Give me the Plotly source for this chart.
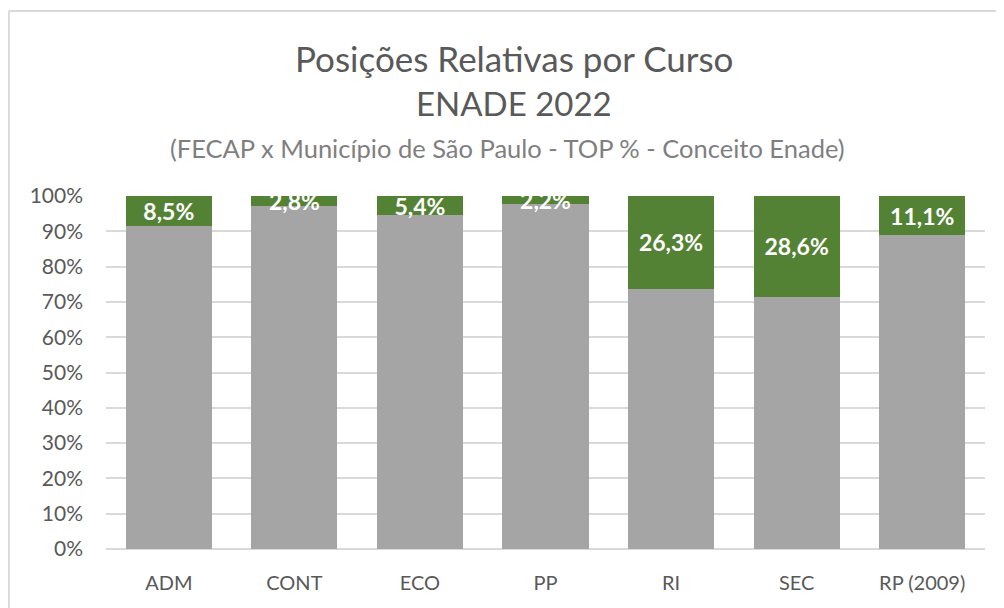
import plotly.graph_objects as go

categories = ["ADM", "CONT", "ECO", "PP", "RI", "SEC", "RP (2009)"]
top_pct = [8.5, 2.8, 5.4, 2.2, 26.3, 28.6, 11.1]
rest_pct = [100 - v for v in top_pct]

title_line1 = "Posições Relativas por Curso"
title_line2 = "ENADE 2022"
subtitle = "(FECAP x Município de São Paulo - TOP % - Conceito Enade)"

FONT = "Lato, Open Sans, sans-serif"
GREY = "#A5A5A5"
GREEN = "#548235"
TXT = "#595959"

fig = go.Figure()
fig.add_trace(go.Bar(
    x=categories, y=[v / 100 for v in rest_pct],
    marker=dict(color=GREY, line=dict(width=0)),
    hoverinfo="skip", showlegend=False,
))
fig.add_trace(go.Bar(
    x=categories, y=[v / 100 for v in top_pct],
    marker=dict(color=GREEN, line=dict(width=0)),
    texttemplate="%{y:.1%}", textposition="inside",
    insidetextanchor="middle", constraintext="none",
    textfont=dict(family=FONT, size=23, color="white", weight="bold"),
    cliponaxis=False, showlegend=False,
))

frame = dict(color="#D9D9D9", width=2)
fig.update_layout(
    barmode="stack", bargap=0.315,
    separators=",.",
    width=996, height=600,
    margin=dict(l=98, r=19, t=188, b=59, autoexpand=False),
    paper_bgcolor="white", plot_bgcolor="white",
    font=dict(family=FONT, color=TXT),
    xaxis=dict(
        showgrid=False, showline=False, zeroline=False, automargin=False,
        tickfont=dict(size=20, color=TXT), ticklabelstandoff=20,
    ),
    yaxis=dict(
        range=[0, 1], dtick=0.1, tickformat=".0%", automargin=False,
        showgrid=True, gridcolor="#D9D9D9", gridwidth=1.5,
        zeroline=True, zerolinecolor="#D9D9D9", zerolinewidth=1.5,
        showline=False, tickfont=dict(size=21, color=TXT),
        ticklabelstandoff=22,
    ),
    shapes=[
        dict(type="line", xref="paper", yref="paper",
             x0=-0.1105, x1=-0.1105, y0=-0.3, y1=1.524, line=frame, layer="below"),
        dict(type="line", xref="paper", yref="paper",
             x0=-0.1105, x1=1.2, y0=1.524, y1=1.524, line=frame, layer="below"),
    ],
    annotations=[
        dict(text=title_line1, xref="paper", yref="paper", x=0.4636, y=1.39,
             xanchor="center", yanchor="middle", showarrow=False,
             font=dict(family=FONT, size=35, color=TXT)),
        dict(text=title_line2, xref="paper", yref="paper", x=0.4636, y=1.263,
             xanchor="center", yanchor="middle", showarrow=False,
             font=dict(family=FONT, size=33, color=TXT)),
        dict(text=subtitle, xref="paper", yref="paper", x=0.457, y=1.136,
             xanchor="center", yanchor="middle", showarrow=False,
             font=dict(family=FONT, size=25.5, color="#7F7F7F")),
    ],
)

fig.write_html("out.html")
